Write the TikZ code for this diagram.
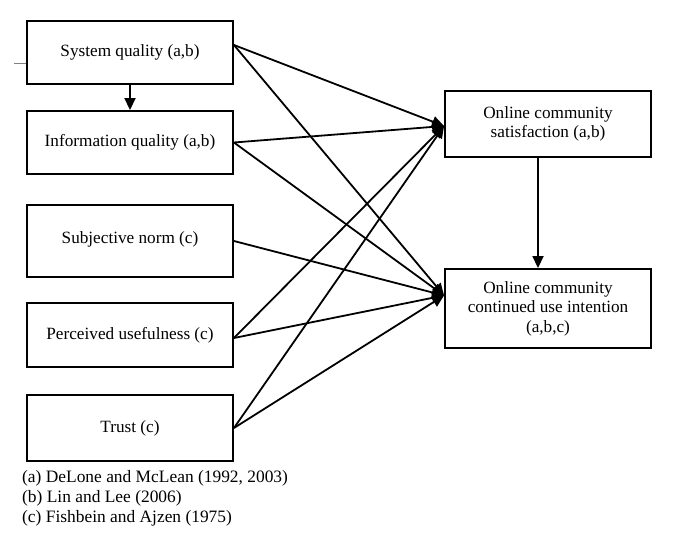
\documentclass[tikz,border=0pt]{standalone}
\usepackage{fontspec}
\setmainfont{Liberation Serif}
\usetikzlibrary{arrows.meta}
\begin{document}
\begin{tikzpicture}[x=1pt,y=-1pt,
  box/.style={draw,line width=1.9pt,minimum width=206pt,inner sep=2pt,align=center,
    font=\fontsize{17.2}{19.5}\selectfont},
  arr/.style={line width=1.8pt,-{Triangle[length=12pt,width=11pt]}},
  note/.style={anchor=base west,inner sep=0pt,font=\fontsize{17.4}{20}\selectfont}]
\useasboundingbox (0,0) rectangle (680,538);
\node[box,minimum height=63pt] (b1) at (130,52.5) {System quality (a,b)};
\node[box,minimum height=63pt] (b2) at (130,142.5) {Information quality (a,b)};
\node[box,minimum height=72pt] (b3) at (130,241) {\raisebox{6pt}{Subjective norm (c)}};
\node[box,minimum height=64pt] (b4) at (130,335) {Perceived usefulness (c)};
\node[box,minimum height=66pt] (b5) at (130,428) {Trust (c)};
\node[box,minimum height=66pt] (sat) at (548,124) {Online community\\satisfaction (a,b)};
\node[box,minimum height=79pt] (int) at (548,308.5) {Online community\\continued use intention\\(a,b,c)};
\coordinate (s1) at ([yshift=7.5pt]b1.east);
\coordinate (s2) at (b2.east);
\coordinate (s3) at (b3.east);
\coordinate (s4) at ([yshift=-3pt]b4.east);
\coordinate (s5) at (b5.east);
\coordinate (tS) at ([yshift=-2pt]sat.west);
\coordinate (tI) at ([yshift=13pt]int.west);
\draw[arr] (b1.south) -- (b2.north);
\draw[arr] ([xshift=-10pt]sat.south) -- ([xshift=-10pt]int.north);
\foreach \s in {s1,s2,s4,s5} \draw[arr] (\s) -- (tS);
\foreach \s in {s1,s2,s3,s4,s5} \draw[arr] (\s) -- (tI);
\coordinate (g1) at (14,63);
\draw[gray,line width=0.8pt] (g1) -- (b1.west |- g1);
\node[note] (n1) at (22,482) {(a) DeLone and McLean (1992, 2003)};
\node[note] (n2) at (22,502) {(b) Lin and Lee (2006)};
\node[note] (n3) at (22,522) {(c) Fishbein and Ajzen (1975)};
\end{tikzpicture}
\end{document}
